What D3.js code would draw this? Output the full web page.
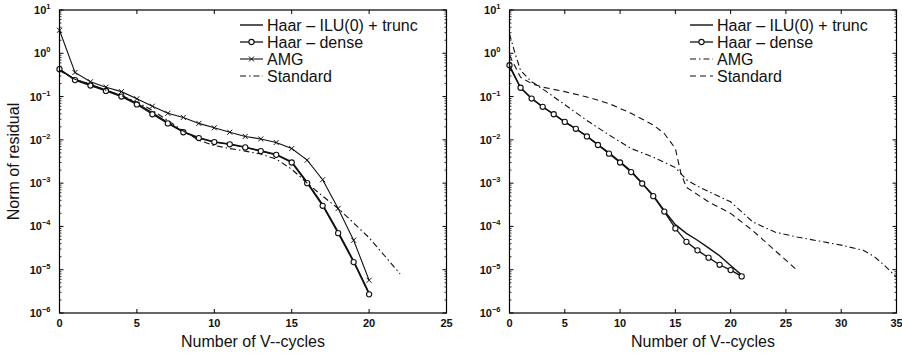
<!DOCTYPE html>
<html>
<head>
<meta charset="utf-8">
<script src="https://cdn.jsdelivr.net/npm/d3@7"></script>
<style>
    body { margin: 0; background: #fff; }
    svg { display: block; font-family: "Liberation Sans", Arial, Helvetica, sans-serif; }
</style>
</head>
<body>
<svg id="chart" width="902" height="355"></svg>
<script>
// ---- data ----
const legendLabels = ["Haar \u2013 ILU(0) + trunc", "Haar \u2013 dense", "AMG", "Standard"];
const xTicksLeft = [0, 5, 10, 15, 20, 25];
const xTicksRight = [0, 5, 10, 15, 20, 25, 30, 35];
const yExponents = [1, 0, -1, -2, -3, -4, -5, -6];

// left panel
const leftIlu = [[0, 0.42], [1, 0.25], [2, 0.19], [3, 0.14], [4, 0.105], [5, 0.07], [6, 0.042], [7, 0.025], [8, 0.0155], [9, 0.0112], [10, 0.009], [11, 0.008], [12, 0.0068], [13, 0.0056], [14, 0.0046], [15, 0.0031], [16, 0.00105], [17, 0.00032], [18, 7.5e-5], [19, 1.6e-5], [20, 2.9e-6]];
const leftDense = [[0, 0.43], [1, 0.24], [2, 0.18], [3, 0.135], [4, 0.10], [5, 0.066], [6, 0.039], [7, 0.024], [8, 0.015], [9, 0.011], [10, 0.0089], [11, 0.0079], [12, 0.0067], [13, 0.0055], [14, 0.0045], [15, 0.003], [16, 0.001], [17, 0.0003], [18, 7e-5], [19, 1.5e-5], [20, 2.7e-6]];
const leftAmg = [[0, 3.4], [1, 0.36], [2, 0.22], [3, 0.165], [4, 0.13], [5, 0.089], [6, 0.06], [7, 0.041], [8, 0.033], [9, 0.024], [10, 0.019], [11, 0.015], [12, 0.012], [13, 0.0105], [14, 0.0087], [15, 0.0063], [16, 0.0034], [17, 0.0012], [18, 0.00026], [19, 4.8e-5], [20, 5.7e-6]];
const leftStandard = [[0, 0.4], [1, 0.25], [2, 0.19], [3, 0.14], [4, 0.105], [5, 0.075], [6, 0.048], [7, 0.028], [8, 0.016], [9, 0.0098], [10, 0.0074], [11, 0.0063], [12, 0.0055], [13, 0.0047], [14, 0.0036], [15, 0.0021], [16, 0.001], [17, 0.0005], [18, 0.00026], [19, 0.00012], [20, 5.5e-5], [21, 2.1e-5], [22, 8e-6]];

// right panel
const rightIlu = [[0, 0.5], [1, 0.16], [2, 0.09], [3, 0.058], [4, 0.039], [5, 0.026], [6, 0.018], [7, 0.0122], [8, 0.0078], [9, 0.005], [10, 0.0031], [11, 0.0019], [12, 0.001], [13, 0.00052], [14, 0.00023], [15, 0.00011], [16, 6.9e-5], [17, 4.8e-5], [18, 3.2e-5], [19, 2.1e-5], [20, 1.25e-5], [21, 7.5e-6]];
const rightDense = [[0, 0.53], [1, 0.16], [2, 0.09], [3, 0.058], [4, 0.039], [5, 0.026], [6, 0.018], [7, 0.012], [8, 0.0076], [9, 0.0048], [10, 0.003], [11, 0.0018], [12, 0.00098], [13, 0.0005], [14, 0.00022], [15, 9e-5], [16, 4.4e-5], [17, 2.8e-5], [18, 1.9e-5], [19, 1.3e-5], [20, 9.8e-6], [21, 7e-6]];
const rightAmg = [[0, 2.8], [0.5, 1.0], [1, 0.4], [2, 0.22], [3, 0.15], [5, 0.065], [7, 0.028], [9, 0.013], [11, 0.0063], [13, 0.004], [15, 0.0023], [16, 0.0012], [17, 0.00085], [20, 0.00037], [22, 0.000127], [24, 7.4e-5], [26, 5.7e-5], [28, 4.6e-5], [30, 3.7e-5], [32, 2.8e-5], [33, 2e-5], [34, 1.2e-5], [35, 6.7e-6]];
const rightStandard = [[0, 0.9], [1, 0.28], [2, 0.2], [3, 0.165], [5, 0.13], [7, 0.098], [9, 0.069], [11, 0.041], [13, 0.022], [14, 0.014], [15, 0.0063], [15.5, 0.0017], [16, 0.0008], [18, 0.00037], [20, 0.0002], [22, 8e-5], [24, 2.8e-5], [26, 9.8e-6]];

const svg = d3.select("#chart");
const plotTop = 10, plotBottom = 313;

const yScale = d3.scaleLog().domain([1e-6, 10]).range([plotBottom, plotTop]);

// minor log ticks 2..9 for every decade
const minorY = [];
for (let e = -6; e < 1; e++) {
    for (let k = 2; k < 10; k++) minorY.push(k * Math.pow(10, e));
}

function drawPanel(x0, x1, xMax, xTicks, series, styles, legendX) {
    const xScale = d3.scaleLinear().domain([0, xMax]).range([x0, x1]);
    const g = svg.append("g");

    const line = d3.line().x(d => xScale(d[0])).y(d => yScale(d[1]));

    series.forEach((s, i) => {
        const st = styles[i];
        g.append("path")
            .datum(s)
            .attr("d", line)
            .attr("fill", "none")
            .attr("stroke", "#111")
            .attr("stroke-width", st.width)
            .attr("stroke-dasharray", st.dash);
        if (st.marker === "circle") {
            g.selectAll(null).data(s).enter().append("circle")
                .attr("cx", d => xScale(d[0]))
                .attr("cy", d => yScale(d[1]))
                .attr("r", 2.6)
                .attr("fill", "#fff")
                .attr("stroke", "#111")
                .attr("stroke-width", 1.1);
        }
        if (st.marker === "x") {
            g.selectAll(null).data(s).enter().append("path")
                .attr("d", d => {
                    const cx = xScale(d[0]), cy = yScale(d[1]), r = 2.5;
                    return `M${cx - r},${cy - r}L${cx + r},${cy + r}M${cx - r},${cy + r}L${cx + r},${cy - r}`;
                })
                .attr("stroke", "#111")
                .attr("stroke-width", 1);
        }
    });

    // frame
    g.append("rect")
        .attr("x", x0).attr("y", plotTop)
        .attr("width", x1 - x0).attr("height", plotBottom - plotTop)
        .attr("fill", "none")
        .attr("stroke", "#000")
        .attr("stroke-width", 1.2);

    // y ticks on both sides
    yExponents.forEach(e => {
        const y = yScale(Math.pow(10, e));
        g.append("line").attr("x1", x0).attr("x2", x0 + 4).attr("y1", y).attr("y2", y).attr("stroke", "#000");
        g.append("line").attr("x1", x1).attr("x2", x1 - 4).attr("y1", y).attr("y2", y).attr("stroke", "#000");
        const t = g.append("text")
            .attr("x", x0 - 9)
            .attr("y", y + 4)
            .attr("text-anchor", "end")
            .attr("font-size", 11)
            .attr("font-weight", "bold")
            .attr("fill", "#111");
        t.append("tspan").text("10");
        t.append("tspan").attr("dy", -5).attr("font-size", 7.5).text(e < 0 ? "\u2212" + (-e) : e);
    });
    minorY.forEach(v => {
        const y = yScale(v);
        g.append("line").attr("x1", x0).attr("x2", x0 + 2).attr("y1", y).attr("y2", y).attr("stroke", "#000").attr("stroke-width", 0.8);
        g.append("line").attr("x1", x1).attr("x2", x1 - 2).attr("y1", y).attr("y2", y).attr("stroke", "#000").attr("stroke-width", 0.8);
    });

    // x ticks top and bottom
    xTicks.forEach(v => {
        const x = xScale(v);
        g.append("line").attr("x1", x).attr("x2", x).attr("y1", plotBottom).attr("y2", plotBottom - 4).attr("stroke", "#000");
        g.append("line").attr("x1", x).attr("x2", x).attr("y1", plotTop).attr("y2", plotTop + 4).attr("stroke", "#000");
        g.append("text")
            .attr("x", x)
            .attr("y", plotBottom + 14)
            .attr("text-anchor", "middle")
            .attr("font-size", 11)
            .attr("font-weight", "bold")
            .attr("fill", "#111")
            .text(v);
    });

    g.append("text")
        .attr("x", (x0 + x1) / 2)
        .attr("y", 347)
        .attr("text-anchor", "middle")
        .attr("font-size", 16)
        .attr("fill", "#111")
        .text("Number of V--cycles");

    // legend
    legendLabels.forEach((lab, i) => {
        const st = styles[i];
        const y = 25 + i * 17;
        g.append("line")
            .attr("x1", legendX).attr("x2", legendX + 23)
            .attr("y1", y).attr("y2", y)
            .attr("stroke", "#111")
            .attr("stroke-width", st.width)
            .attr("stroke-dasharray", st.dash);
        if (st.marker === "circle") {
            g.append("circle").attr("cx", legendX + 11.5).attr("cy", y).attr("r", 2.6)
                .attr("fill", "#fff").attr("stroke", "#111").attr("stroke-width", 1.1);
        }
        if (st.marker === "x") {
            const cx = legendX + 11.5, r = 2.5;
            g.append("path")
                .attr("d", `M${cx - r},${y - r}L${cx + r},${y + r}M${cx - r},${y + r}L${cx + r},${y - r}`)
                .attr("stroke", "#111");
        }
        g.append("text")
            .attr("x", legendX + 27)
            .attr("y", y + 5.5)
            .attr("font-size", 16)
            .attr("fill", "#111")
            .text(lab);
    });
}

const solid = {width: 1.4, dash: null};
const dashDot = {width: 1.1, dash: "6,3,1.5,3"};

drawPanel(59.5, 446.5, 25, xTicksLeft,
    [leftIlu, leftDense, leftAmg, leftStandard],
    [solid, {width: 1.3, dash: null, marker: "circle"}, {width: 1.1, dash: null, marker: "x"}, dashDot],
    240);

drawPanel(509.5, 896.5, 35, xTicksRight,
    [rightIlu, rightDense, rightAmg, rightStandard],
    [solid, {width: 1.3, dash: null, marker: "circle"}, dashDot, {width: 1.1, dash: "6,4"}],
    690);

svg.append("text")
    .attr("transform", `translate(19,${(plotTop + plotBottom) / 2}) rotate(-90)`)
    .attr("text-anchor", "middle")
    .attr("font-size", 16)
    .attr("fill", "#111")
    .text("Norm of residual");
</script>
</body>
</html>
